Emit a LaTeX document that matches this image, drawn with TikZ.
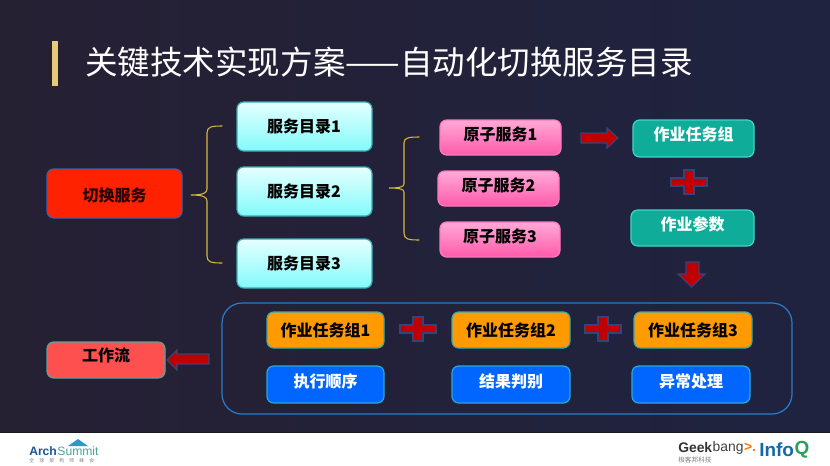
\documentclass[tikz,border=0pt]{standalone}
\usepackage{fontspec}
\setmainfont{Noto Sans CJK SC}
\newfontfamily\lat{Liberation Sans}
\definecolor{bgL}{HTML}{262033}
\definecolor{bgR}{HTML}{1F2340}
\definecolor{brace}{HTML}{D8B83C}
\definecolor{arrowfill}{HTML}{C00000}
\definecolor{arrowline}{HTML}{34447A}
\tikzset{
 x=0.75pt,y=-0.75pt,
 box/.style={rounded corners=5pt,line width=0.9pt,align=center},
 lbl/.style={font=\fontsize{12}{14}\selectfont\bfseries},
 bracep/.style={draw=brace,line width=0.8pt,line cap=round},
 sym/.style={fill=arrowfill,draw=arrowline,line width=0.9pt},
}
\newcommand{\plusmark}[3]{\node[inner sep=0pt,minimum size=0pt] (#1) at (#2,#3) {};
 \path[sym] (#2-18,#3-4) -- (#2-5,#3-4) -- (#2-5,#3-12) -- (#2+5,#3-12) -- (#2+5,#3-4) -- (#2+18,#3-4) -- (#2+18,#3+4) -- (#2+5,#3+4) -- (#2+5,#3+12) -- (#2-5,#3+12) -- (#2-5,#3+4) -- (#2-18,#3+4) -- cycle;}
\begin{document}
\begin{tikzpicture}
\useasboundingbox (0,0) rectangle (830,465);
\shade[left color=bgL,right color=bgR] (0,0) rectangle (830,433);
\fill[white] (0,433) rectangle (830,465);
\fill[bgL!70!black] (0,432.3) rectangle (830,433.3);
% title
\fill[fill={rgb,255:red,232;green,201;blue,120}] (52,41) rectangle (58,86);
\node[anchor=west,inner sep=0pt,text=white,font=\fontsize{24.4}{28}\selectfont] (title) at (85,62) {关键技术实现方案——自动化切换服务目录};
% red box
\path[box,fill={rgb,255:red,255;green,34;blue,0},draw={rgb,255:red,60;green,95;blue,170}] (47,169) rectangle (182,218);
\node[lbl,text=black!85!red] (sw) at (114.5,195) {切换服务};
% directories
\foreach \n/\a/\b in {1/102/151,2/167/216,3/239/288}{
 \path[box,top color=cyan!10!white,bottom color={rgb,255:red,130;green,250;blue,250},draw={rgb,255:red,60;green,170;blue,180}] (237,\a) rectangle (372,\b);
 \node[lbl,text=black] (dir\n) at (304,{(\a+\b)/2}) {服务目录\n};
}
% atoms
\foreach \n/\xa/\a/\xb/\b in {1/440/120/561/155,2/438/171/559/206,3/440/222/560/257}{
 \path[box,top color={rgb,255:red,255;green,170;blue,215},bottom color={rgb,255:red,255;green,90;blue,170},draw={rgb,255:red,255;green,120;blue,190}] (\xa,\a) rectangle (\xb,\b);
 \node[lbl,text=black] (atom\n) at ({(\xa+\xb)/2},{(\a+\b)/2-3}) {原子服务\n};
}
% braces
\coordinate (b1a) at (222,126); \coordinate (b1b) at (222,263); \coordinate (b1t) at (191,195);
\draw[bracep] (b1a) .. controls (211,126) and (207,127) .. (207,133) -- (207,189) .. controls (207,193) and (203,195) .. (b1t) .. controls (203,195) and (207,197) .. (207,201) -- (207,256) .. controls (207,262) and (211,263) .. (b1b);
\coordinate (b2a) at (419,137); \coordinate (b2b) at (419,240); \coordinate (b2t) at (389,188);
\draw[bracep] (b2a) .. controls (408,137) and (404,138) .. (404,143) -- (404,184) .. controls (404,187) and (399,188) .. (b2t) .. controls (399,188) and (404,189) .. (404,192) -- (404,233) .. controls (404,239) and (408,240) .. (b2b);
% teal
\path[box,fill={rgb,255:red,16;green,172;blue,154},draw={rgb,255:red,60;green,215;blue,200}] (633,120) rectangle (754,157);
\node[lbl,text=white] (grp) at (693.5,134) {作业任务组};
\path[box,fill={rgb,255:red,16;green,172;blue,154},draw={rgb,255:red,60;green,215;blue,200}] (631,210) rectangle (754,246);
\node[lbl,text=white] (par) at (692.5,224) {作业参数};
% arrows
\path[sym] (581,133) -- (607,133) -- (607,128) -- (618,138) -- (607,148) -- (607,143) -- (581,143) -- cycle;
\plusmark{p0}{689}{182}
\path[sym] (686,262) -- (699,262) -- (699,274) -- (705,274) -- (691.5,287) -- (678,274) -- (686,274) -- cycle;
% big frame
\node[draw={rgb,255:red,40;green,125;blue,200},line width=0.9pt,rounded corners=15pt,minimum width=427.5pt,minimum height=83.25pt,inner sep=0pt] (frame) at (507,358.5) {};
% orange and blue
\foreach \n/\xa/\xb/\xc/\xd/\t in {1/267/384/267/384/执行顺序,2/452/570/452/570/结果判别,3/634/752/632/750/异常处理}{
 \path[box,fill={rgb,255:red,255;green,155;blue,0},draw={rgb,255:red,60;green,170;blue,170}] (\xa,312) rectangle (\xb,348);
 \node[lbl,text=black] (org\n) at ({(\xa+\xb)/2},330) {作业任务组\n};
 \path[box,fill={rgb,255:red,0;green,102;blue,255},draw={rgb,255:red,40;green,170;blue,210}] (\xc,366) rectangle (\xd,403);
 \node[lbl,text=white] (blu\n) at ({(\xc+\xd)/2},381) {\t};
}
\plusmark{p1}{418}{329}
\plusmark{p2}{603}{329}
% workflow
\path[box,fill={rgb,255:red,255;green,80;blue,80},draw={rgb,255:red,90;green,160;blue,150}] (47,342) rectangle (165,378);
\node[lbl,text=black] (wf) at (106,355) {工作流};
\path[sym] (209,354) -- (209,364) -- (177,364) -- (177,370) -- (167,360) -- (177,350) -- (177,354) -- cycle;
% logos
\node[anchor=west,inner sep=0pt,font=\lat\bfseries\fontsize{9.1}{10}\selectfont,text={rgb,255:red,25;green,85;blue,150}] (arch) at (29,451) {Arch};
\node[anchor=west,inner sep=0pt,font=\lat\fontsize{9.1}{10}\selectfont,text={rgb,255:red,70;green,165;blue,150}] (summit) at (arch.east) {Summit};
\fill[fill={rgb,255:red,50;green,150;blue,200}] (68,446) -- (78,439) -- (88,446) -- cycle;
\node[anchor=west,inner sep=0pt,font=\fontsize{3.6}{4}\selectfont,text=gray] (archcn) at (29,460.5) {全\hspace{3.9pt}球\hspace{3.9pt}架\hspace{3.9pt}构\hspace{3.9pt}师\hspace{3.9pt}峰\hspace{3.9pt}会};
\node[anchor=west,inner sep=0pt,font=\lat\bfseries\fontsize{10.4}{10.4}\selectfont,text=black!80] (geek) at (678,447.5) {Geek};
\node[anchor=west,inner sep=0pt,font=\lat\fontsize{10.4}{10.4}\selectfont,text=black!75] (bang) at (geek.east) {bang};
\node[anchor=west,inner sep=0pt,font=\lat\bfseries\fontsize{10.4}{10.4}\selectfont,text=orange!90!red] (gt) at (bang.east) {>.};
\node[anchor=west,inner sep=0pt,font=\fontsize{5}{5}\selectfont,text=gray] (geekcn) at (678,459.5) {极客邦科技};
\node[anchor=west,inner sep=0pt,font=\lat\bfseries\fontsize{14.2}{17}\selectfont,text={rgb,255:red,20;green,105;blue,170}] (info) at (759,449.5) {Info};
\node[anchor=west,inner sep=0pt,font=\lat\bfseries\fontsize{14.2}{17}\selectfont,text={rgb,255:red,40;green,160;blue,90}] (q) at (info.east) {Q};
\end{tikzpicture}
\end{document}
